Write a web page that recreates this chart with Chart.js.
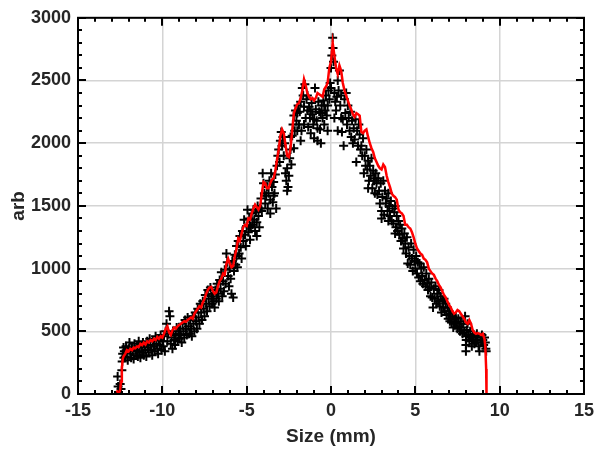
<!DOCTYPE html>
<html>
<head>
<meta charset="utf-8">
<script src="https://cdn.jsdelivr.net/npm/chart.js@4.4.1/dist/chart.umd.min.js"></script>
<style>
  html, body { margin: 0; padding: 0; background: #fff; }
</style>
</head>
<body>
<canvas id="myChart" width="600" height="451"></canvas>
<script>
// Red profile line (x in mm, value in arb)
const redX = [-12.7, -12.6, -12.5, -12.45, -12.4, -12.35, -12.3, -12.2, -12.1, -12.0,
  -11.9, -11.8, -11.7, -11.6, -11.5, -11.4, -11.3, -11.2, -11.1, -11.0,
  -10.9, -10.8, -10.7, -10.6, -10.5, -10.4, -10.3, -10.2, -10.1, -10.0,
  -9.9, -9.8, -9.7, -9.6, -9.5, -9.4, -9.3, -9.2, -9.1, -9.0,
  -8.9, -8.8, -8.7, -8.6, -8.5, -8.4, -8.3, -8.2, -8.1, -8.0,
  -7.9, -7.8, -7.7, -7.6, -7.5, -7.4, -7.3, -7.2, -7.1, -7.0,
  -6.9, -6.8, -6.7, -6.6, -6.5, -6.4, -6.3, -6.2, -6.1, -6.0,
  -5.9, -5.8, -5.7, -5.6, -5.5, -5.4, -5.3, -5.2, -5.1, -5.0,
  -4.9, -4.8, -4.7, -4.6, -4.5, -4.4, -4.3, -4.2, -4.1, -4.0,
  -3.9, -3.8, -3.7, -3.6, -3.5, -3.4, -3.3, -3.2, -3.1, -3.0,
  -2.9, -2.8, -2.7, -2.6, -2.5, -2.4, -2.3, -2.2, -2.1, -2.0,
  -1.9, -1.8, -1.7, -1.6, -1.5, -1.4, -1.3, -1.2, -1.1, -1.0,
  -0.9, -0.8, -0.7, -0.6, -0.5, -0.4, -0.3, -0.2, -0.1, 0.0,
  0.1, 0.2, 0.3, 0.4, 0.5, 0.6, 0.7, 0.8, 0.9, 1.0,
  1.1, 1.2, 1.3, 1.4, 1.5, 1.6, 1.7, 1.8, 1.9, 2.0,
  2.1, 2.2, 2.3, 2.4, 2.5, 2.6, 2.7, 2.8, 2.9, 3.0,
  3.1, 3.2, 3.3, 3.4, 3.5, 3.6, 3.7, 3.8, 3.9, 4.0,
  4.1, 4.2, 4.3, 4.4, 4.5, 4.6, 4.7, 4.8, 4.9, 5.0,
  5.1, 5.2, 5.3, 5.4, 5.5, 5.6, 5.7, 5.8, 5.9, 6.0,
  6.1, 6.2, 6.3, 6.4, 6.5, 6.6, 6.7, 6.8, 6.9, 7.0,
  7.1, 7.2, 7.3, 7.4, 7.5, 7.6, 7.7, 7.8, 7.9, 8.0,
  8.1, 8.2, 8.3, 8.4, 8.5, 8.6, 8.7, 8.8, 8.9, 9.0,
  9.1, 9.15, 9.2, 9.22];
const redY = [30, 0, 30, 100, 200, 280, 300, 320, 350, 340,
  360, 350, 370, 365, 380, 375, 400, 390, 410, 395,
  420, 410, 430, 420, 440, 430, 455, 440, 460, 450,
  480, 520, 540, 490, 470, 510, 530, 520, 540, 550,
  560, 570, 580, 575, 590, 600, 610, 600, 640, 660,
  680, 700, 690, 730, 760, 800, 830, 850, 855, 820,
  800, 810, 860, 900, 920, 960, 950, 1040, 1080, 1040,
  1010, 1020, 1100, 1160, 1240, 1220, 1280, 1330, 1350, 1340,
  1400, 1390, 1440, 1480, 1510, 1490, 1470, 1500, 1600, 1690,
  1680, 1640, 1640, 1680, 1710, 1720, 1780, 1870, 1950, 2060,
  2110, 2080, 1990, 1900, 1890, 1960, 2100, 2240, 2280, 2310,
  2320, 2360, 2420, 2510, 2460, 2400, 2370, 2350, 2360, 2340,
  2360, 2400, 2390, 2380, 2370, 2430, 2450, 2480, 2600, 2650,
  2800, 2700, 2600, 2550, 2620, 2580, 2480, 2420, 2380, 2340,
  2300, 2270, 2230, 2210, 2240, 2230, 2220, 2090, 2080, 2100,
  2110, 2050, 2000, 1960, 1930, 1880, 1850, 1820, 1800, 1790,
  1830, 1810, 1740, 1690, 1650, 1600, 1580, 1570, 1550, 1470,
  1450, 1440, 1420, 1350, 1350, 1330, 1320, 1290, 1250, 1200,
  1160, 1140, 1120, 1110, 1080, 1070, 1050, 1000, 980, 960,
  950, 920, 900, 870, 850, 820, 790, 770, 740, 710,
  690, 660, 640, 650, 670, 660, 640, 620, 600, 570,
  560, 590, 560, 510, 490, 480, 485, 480, 470, 480,
  440, 380, 200, 0];

// Black "+" measurements: [x, value]
const blackPts = [
  [-12.65, 140], [-12.62, 60], [-12.6, 15], [-12.55, 0], [-12.5, 80], [-12.45, 40], [-12.4, 190], [-12.38, 260],
  [-12.35, 320], [-12.3, 370], [-12.28, 290], [-12.25, 340], [-12.2, 300], [-12.15, 380], [-12.1, 330], [-12.05, 270], [-12.0, 360],
  [-11.95, 410], [-11.9, 320], [-11.85, 290], [-11.8, 370], [-11.75, 340], [-11.7, 280], [-11.65, 400], [-11.6, 350],
  [-11.55, 310], [-11.5, 380], [-11.45, 300], [-11.4, 420], [-11.35, 340], [-11.3, 290], [-11.25, 370], [-11.2, 330],
  [-11.15, 410], [-11.1, 310], [-11.05, 380], [-11.0, 350],
  [-10.95, 300], [-10.9, 420], [-10.85, 370], [-10.8, 330], [-10.75, 440], [-10.7, 390], [-10.65, 350], [-10.6, 310],
  [-10.55, 420], [-10.5, 380], [-10.45, 340], [-10.4, 460], [-10.35, 400], [-10.3, 360], [-10.25, 320], [-10.2, 430],
  [-10.15, 390], [-10.1, 470], [-10.05, 350], [-10.0, 420],
  [-9.95, 380], [-9.9, 460], [-9.85, 340], [-9.8, 500], [-9.75, 560], [-9.7, 420], [-9.65, 480], [-9.6, 660],
  [-9.55, 620], [-9.5, 400], [-9.45, 450], [-9.4, 360], [-9.35, 500], [-9.3, 430], [-9.25, 390], [-9.2, 470],
  [-9.15, 530], [-9.1, 420], [-9.05, 480], [-9.0, 440],
  [-8.95, 520], [-8.9, 470], [-8.85, 410], [-8.8, 560], [-8.75, 500], [-8.7, 450], [-8.65, 590], [-8.6, 520],
  [-8.55, 470], [-8.5, 610], [-8.45, 540], [-8.4, 480], [-8.35, 590], [-8.3, 520], [-8.25, 460], [-8.2, 620],
  [-8.15, 560], [-8.1, 500], [-8.05, 650], [-8.0, 580],
  [-7.95, 520], [-7.9, 680], [-7.85, 610], [-7.8, 560], [-7.75, 720], [-7.7, 650], [-7.65, 590], [-7.6, 740],
  [-7.55, 680], [-7.5, 620], [-7.45, 790], [-7.4, 720], [-7.35, 660], [-7.3, 830], [-7.25, 760], [-7.2, 700],
  [-7.15, 850], [-7.1, 780], [-7.05, 720], [-7.0, 800],
  [-6.95, 740], [-6.9, 690], [-6.85, 830], [-6.8, 760], [-6.75, 880], [-6.7, 800], [-6.65, 740], [-6.6, 910],
  [-6.55, 840], [-6.5, 970], [-6.45, 780], [-6.4, 900], [-6.35, 820], [-6.3, 990], [-6.25, 880], [-6.2, 1120],
  [-6.15, 1050], [-6.1, 940], [-6.05, 860], [-6.0, 1000],
  [-5.95, 920], [-5.9, 800], [-5.85, 1060], [-5.8, 770], [-5.75, 980], [-5.7, 1110], [-5.65, 1030], [-5.6, 1180],
  [-5.55, 1010], [-5.5, 1220], [-5.45, 1120], [-5.4, 1260], [-5.35, 1170], [-5.3, 1080], [-5.25, 1300], [-5.2, 1220],
  [-5.15, 1390], [-5.1, 1270], [-5.05, 1180], [-5.0, 1340],
  [-4.95, 1470], [-4.9, 1290], [-4.85, 1400], [-4.8, 1230], [-4.75, 1340], [-4.7, 1440], [-4.65, 1350], [-4.6, 1470],
  [-4.55, 1390], [-4.5, 1300], [-4.45, 1450], [-4.4, 1370], [-4.35, 1500], [-4.3, 1420], [-4.25, 1330], [-4.2, 1480],
  [-4.15, 1560], [-4.1, 1460], [-4.05, 1760], [-4.0, 1680],
  [-3.95, 1600], [-3.9, 1520], [-3.85, 1580], [-3.8, 1650], [-3.75, 1480], [-3.7, 1600], [-3.65, 1700], [-3.6, 1550],
  [-3.55, 1760], [-3.5, 1650], [-3.45, 1530], [-3.4, 1690], [-3.35, 1600], [-3.3, 1750], [-3.25, 1480], [-3.2, 1820],
  [-3.15, 1900], [-3.1, 1950], [-3.05, 1850], [-3.0, 2020],
  [-2.95, 2090], [-2.9, 1980], [-2.85, 2050], [-2.8, 1900], [-2.75, 2000], [-2.7, 1760], [-2.65, 1700], [-2.6, 1620],
  [-2.6, 1800], [-2.55, 1650], [-2.5, 1740], [-2.45, 1880], [-2.4, 1950], [-2.35, 1830], [-2.3, 2060], [-2.25, 2150],
  [-2.2, 2220], [-2.15, 2100], [-2.1, 2260], [-2.05, 2180], [-2.0, 2240],
  [-1.95, 2300], [-1.9, 2150], [-1.85, 2250], [-1.8, 2330], [-1.75, 2100], [-1.7, 2440], [-1.65, 2380], [-1.6, 2290],
  [-1.55, 2470], [-1.5, 2200], [-1.45, 2350], [-1.4, 2260], [-1.35, 2130], [-1.3, 2290], [-1.25, 2200], [-1.2, 2080],
  [-1.15, 2320], [-1.1, 2230], [-1.05, 2150], [-1.0, 2040],
  [-0.95, 2440], [-0.9, 2270], [-0.85, 2180], [-0.8, 2020], [-0.75, 2330], [-0.7, 2250], [-0.65, 2110], [-0.6, 2000],
  [-0.55, 2300], [-0.5, 2200], [-0.45, 2340], [-0.4, 2150], [-0.35, 2260], [-0.3, 2380], [-0.25, 2220], [-0.2, 2300],
  [-0.15, 2420], [-0.1, 2350], [-0.05, 2480], [0.0, 2440],
  [0.0, 2600], [0.05, 2700], [0.1, 2840], [0.12, 2760], [0.15, 2650], [0.2, 2400], [0.25, 2330], [0.3, 2260],
  [0.35, 2370], [0.4, 2500], [0.45, 2420], [0.5, 2580], [0.55, 2300], [0.6, 2200], [0.65, 2090], [0.7, 2190],
  [0.75, 1980], [0.8, 2350], [0.85, 2240], [0.9, 2400], [0.95, 2150], [1.0, 2300],
  [1.05, 2200], [1.1, 2100], [1.15, 2250], [1.2, 2050], [1.25, 2180], [1.3, 2000], [1.35, 2120], [1.4, 2030],
  [1.45, 2190], [1.5, 1850], [1.55, 2100], [1.6, 1980], [1.65, 2150], [1.7, 2070], [1.75, 1950], [1.8, 1980],
  [1.85, 1900], [1.9, 2040], [1.95, 1760], [2.0, 1900],
  [2.05, 1820], [2.1, 1950], [2.15, 1790], [2.2, 1860], [2.25, 1700], [2.3, 1820], [2.35, 1740], [2.4, 1880],
  [2.45, 1640], [2.5, 1780], [2.55, 1700], [2.6, 1600], [2.65, 1760], [2.7, 1680], [2.75, 1590], [2.8, 1720],
  [2.85, 1620], [2.9, 1520], [2.95, 1680], [3.0, 1460], [3.0, 1400],
  [3.05, 1570], [3.1, 1700], [3.15, 1430], [3.2, 1620], [3.25, 1520], [3.3, 1560], [3.35, 1460], [3.4, 1600],
  [3.45, 1500], [3.5, 1420], [3.55, 1540], [3.6, 1380], [3.65, 1480], [3.7, 1360], [3.75, 1450], [3.8, 1500],
  [3.85, 1330], [3.9, 1420], [3.95, 1300], [4.0, 1380],
  [4.05, 1270], [4.1, 1350], [4.15, 1220], [4.2, 1320], [4.25, 1240], [4.3, 1160], [4.35, 1280], [4.4, 1200],
  [4.45, 1120], [4.5, 1250], [4.55, 1040], [4.6, 1170], [4.65, 1100], [4.7, 1030], [4.75, 1200], [4.8, 1080],
  [4.85, 980], [4.9, 1150], [4.95, 1060], [5.0, 1000],
  [5.05, 1100], [5.1, 960], [5.15, 1050], [5.2, 930], [5.25, 1040], [5.3, 900], [5.35, 1000], [5.4, 940],
  [5.45, 880], [5.5, 1010], [5.55, 910], [5.6, 860], [5.65, 960], [5.7, 880], [5.75, 830], [5.8, 920],
  [5.85, 850], [5.9, 780], [5.95, 890], [6.0, 770],
  [6.05, 690], [6.1, 840], [6.15, 760], [6.2, 860], [6.25, 720], [6.3, 800], [6.35, 740], [6.4, 830],
  [6.45, 700], [6.5, 780], [6.55, 650], [6.6, 750], [6.65, 690], [6.7, 760], [6.75, 660], [6.8, 720],
  [6.85, 630], [6.9, 690], [6.95, 600], [7.0, 660],
  [7.05, 580], [7.1, 640], [7.15, 570], [7.2, 620], [7.25, 530], [7.3, 600], [7.35, 560], [7.4, 610],
  [7.45, 570], [7.5, 520], [7.55, 600], [7.6, 540], [7.65, 500], [7.7, 580], [7.75, 530], [7.8, 480],
  [7.85, 560], [7.9, 490], [7.95, 620], [8.0, 460],
  [8.0, 340], [8.0, 390], [8.02, 430], [8.05, 510], [8.1, 560], [8.15, 470], [8.2, 420], [8.25, 500],
  [8.3, 450], [8.35, 380], [8.4, 470], [8.45, 430], [8.5, 400], [8.55, 460], [8.6, 410], [8.65, 480],
  [8.7, 430], [8.75, 380], [8.8, 340], [8.85, 450], [8.9, 410], [8.95, 470], [9.0, 430], [9.05, 390],
  [9.1, 450], [9.15, 410], [9.18, 360], [9.2, 340],
  // extra points in the dense central cloud
  [-2.4, 2050], [-2.2, 1960], [-2.0, 2100], [-1.8, 2020], [-1.6, 2150], [-1.4, 2380], [-1.2, 2250], [-1.0, 2190],
  [-0.8, 2120], [-0.6, 2240], [-0.4, 2300], [-0.2, 2100], [0.2, 2200], [0.4, 2100], [0.6, 2380], [-3.6, 1440],
  [-3.4, 1580], [-4.4, 1260], [-4.8, 1330], [-5.6, 1100], [2.2, 1640], [2.6, 1720], [3.4, 1380], [3.8, 1280]
];

// Axis settings
const xMin = -15, xMax = 15, xStep = 5, xMinorStep = 1;
const yMin = 0, yMax = 3000, yStep = 500, yMinorStep = 100;

const textColor = '#262626';
const fontFamily = "'Liberation Sans', Arial, sans-serif";
const tickFont = { family: fontFamily, size: 18, weight: 'bold' };
const titleFont = { family: fontFamily, size: 19, weight: 'bold' };

// Box around the axes with inward ticks on all four sides
const boxPlugin = {
  id: 'boxTicks',
  afterDraw(chart) {
    const { ctx, chartArea: a, scales } = chart;
    const xs = scales.x, ys = scales.y;
    ctx.save();
    ctx.strokeStyle = '#000';
    ctx.lineWidth = 2;
    ctx.beginPath();
    for (let v = xMin; v <= xMax + 1e-9; v += xMinorStep) {
      const px = Math.round(xs.getPixelForValue(v));
      const len = (Math.abs(v % xStep) < 1e-9) ? 8 : 4;
      ctx.moveTo(px, a.bottom); ctx.lineTo(px, a.bottom - len);
      ctx.moveTo(px, a.top); ctx.lineTo(px, a.top + len);
    }
    for (let v = yMin; v <= yMax + 1e-9; v += yMinorStep) {
      const py = Math.round(ys.getPixelForValue(v));
      const len = (Math.abs(v % yStep) < 1e-9) ? 8 : 4;
      ctx.moveTo(a.left, py); ctx.lineTo(a.left + len, py);
      ctx.moveTo(a.right, py); ctx.lineTo(a.right - len, py);
    }
    ctx.stroke();
    ctx.strokeRect(a.left, a.top, a.right - a.left, a.bottom - a.top);
    ctx.restore();
  }
};

const ctx = document.getElementById('myChart').getContext('2d');
const myChart = new Chart(ctx, {
  type: 'scatter',
  data: {
    datasets: [
      {
        label: 'profile',
        type: 'line',
        data: redX.map((x, i) => ({ x: x, y: redY[i] })),
        borderColor: '#ff0000',
        borderWidth: 2.5,
        pointRadius: 0,
        fill: false,
        tension: 0,
        order: 1
      },
      {
        label: 'measured',
        data: blackPts.map(p => ({ x: p[0], y: p[1] })),
        pointStyle: 'cross',
        pointRadius: 4.5,
        borderColor: '#000',
        backgroundColor: '#000',
        borderWidth: 2,
        order: 2
      }
    ]
  },
  options: {
    responsive: false,
    animation: false,
    devicePixelRatio: 1,
    layout: { padding: { top: 14, right: 11, left: 0, bottom: 0 } },
    plugins: { legend: { display: false }, tooltip: { enabled: false } },
    scales: {
      x: {
        type: 'linear',
        min: xMin,
        max: xMax,
        afterFit: s => { s.height = 57; },
        ticks: { stepSize: xStep, font: tickFont, color: textColor, padding: 6,
                 callback: v => String(v) },
        grid: { color: '#d4d4d4', lineWidth: 1.5, drawTicks: false },
        border: { display: false },
        title: {
          display: true, text: 'Size (mm)', color: textColor, font: titleFont,
          padding: { top: 0, bottom: 3 }
        }
      },
      y: {
        type: 'linear',
        min: yMin,
        max: yMax,
        afterFit: s => { s.width = 78; },
        ticks: { stepSize: yStep, font: tickFont, color: textColor, padding: 7,
                 callback: v => String(v) },
        grid: { color: '#d4d4d4', lineWidth: 1.5, drawTicks: false },
        border: { display: false },
        title: {
          display: true, text: 'arb', color: textColor, font: titleFont,
          padding: { top: 7, bottom: 0 }
        }
      }
    }
  },
  plugins: [boxPlugin]
});
</script>
</body>
</html>
